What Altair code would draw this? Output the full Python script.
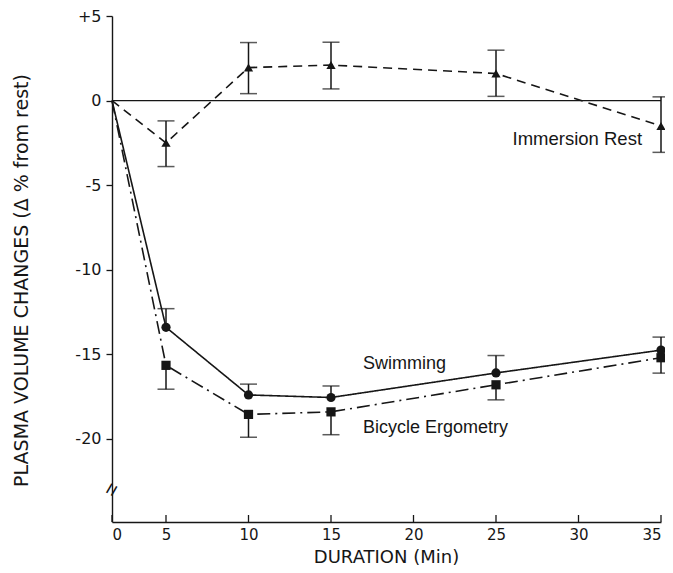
import altair as alt
import pandas as pd

# ---- data ----
minutes = [0, 5, 10, 15, 25, 35]

immersion = [0, -2.5, 1.95, 2.1, 1.6, -1.5]
immersion_hi = [None, -1.2, 3.43, 3.45, 2.98, 0.22]
immersion_lo = [None, -3.9, 0.41, 0.69, 0.25, -3.06]

swimming = [0, -13.4, -17.4, -17.55, -16.1, -14.75]
swimming_hi = [None, -12.3, -16.76, -16.87, -15.07, -13.98]

bicycle = [0, -15.65, -18.55, -18.4, -16.8, -15.2]
bicycle_lo = [None, -17.06, -19.9, -19.75, -17.69, -16.11]

x_ticks = [0, 5, 10, 15, 20, 25, 30, 35]
y_ticks = [5, 0, -5, -10, -15, -20]

labels = ["Immersion Rest", "Swimming", "Bicycle Ergometry"]
label_x = [33.85, 16.94, 16.94]
label_y = [-2.3, -15.55, -19.35]
label_align = ["right", "left", "left"]

# ---- tables ----
def series_df(name, vals):
    return pd.DataFrame({"series": name, "minute": minutes, "value": vals})

lines = pd.concat([
    series_df("Immersion Rest", immersion),
    series_df("Swimming", swimming),
    series_df("Bicycle Ergometry", bicycle),
])
points = lines[lines["minute"] > 0]

err_rows = []
for i, m in enumerate(minutes):
    if m == 0:
        continue
    err_rows.append({"series": "Immersion Rest", "minute": m, "lo": immersion_lo[i], "hi": immersion_hi[i]})
    err_rows.append({"series": "Swimming", "minute": m, "lo": swimming[i], "hi": swimming_hi[i]})
    err_rows.append({"series": "Bicycle Ergometry", "minute": m, "lo": bicycle_lo[i], "hi": bicycle[i]})
errs = pd.DataFrame(err_rows)

cap_rows = []
for i, m in enumerate(minutes):
    if m == 0:
        continue
    cap_rows += [
        {"minute": m, "cap": immersion_lo[i]},
        {"minute": m, "cap": immersion_hi[i]},
        {"minute": m, "cap": swimming_hi[i]},
        {"minute": m, "cap": bicycle_lo[i]},
    ]
caps = pd.DataFrame(cap_rows)

text_df = pd.DataFrame({"label": labels, "minute": label_x, "value": label_y, "align": label_align})
xt = pd.DataFrame({"minute": x_ticks})

INK = "#161616"
FONT = "Liberation Sans"
AXFONT = "DejaVu Sans"

W, H = 549, 506
xscale = alt.Scale(domain=[0, 5, 35], range=[0, 54, W], nice=False, zero=False)
yscale = alt.Scale(domain=[-24.91, 5], nice=False, zero=False)

X = alt.X("minute:Q", scale=xscale,
          axis=alt.Axis(values=x_ticks, title="DURATION (Min)", ticks=False,
                        labelPadding=5, labelFontSize=15,
                        titleX=274, titleY=35, titleBaseline="middle",
                        titleFontSize=18))
Y = alt.Y("value:Q", scale=yscale,
          axis=alt.Axis(values=y_ticks, title="PLASMA VOLUME CHANGES (Δ % from rest)",
                        labelExpr="datum.value > 0 ? '+' + datum.value : '' + datum.value",
                        tickSize=6, labelPadding=5,
                        titleAngle=270, titleAlign="center", titleBaseline="middle",
                        titleX=-91, titleY=264, titleFontSize=19))

base = alt.Chart(lines)

zero_line = alt.Chart(pd.DataFrame({"value": [0]})).mark_rule(color=INK, strokeWidth=1.3).encode(
    y=alt.Y("value:Q", scale=yscale)
)

def line_layer(name, dash):
    return base.transform_filter(alt.datum.series == name).mark_line(
        color=INK, strokeWidth=1.6, strokeDash=dash
    ).encode(x=X, y=Y, order="minute:Q")

l_imm = line_layer("Immersion Rest", [9, 6])
l_swim = line_layer("Swimming", [1, 0])
l_bike = line_layer("Bicycle Ergometry", [13, 5, 2, 5])

pts = alt.Chart(points).mark_point(filled=True, opacity=1, color=INK, size=85).encode(
    x=alt.X("minute:Q", scale=xscale),
    y=alt.Y("value:Q", scale=yscale),
    shape=alt.Shape("series:N", scale=alt.Scale(
        domain=["Immersion Rest", "Swimming", "Bicycle Ergometry"],
        range=["triangle-up", "circle", "square"]), legend=None),
)

err_lines = alt.Chart(errs).mark_rule(color=INK, strokeWidth=1.5).encode(
    x=alt.X("minute:Q", scale=xscale),
    y=alt.Y("lo:Q", scale=yscale),
    y2="hi:Q",
)

cap_ticks = alt.Chart(caps).mark_tick(color=INK, orient="horizontal", size=17, thickness=1.5).encode(
    x=alt.X("minute:Q", scale=xscale),
    y=alt.Y("cap:Q", scale=yscale),
)

xtick_marks = alt.Chart(xt).mark_rule(color=INK, strokeWidth=1.3).encode(
    x=alt.X("minute:Q", scale=xscale),
    y=alt.value(H),
    y2=alt.value(H - 7),
)

break_mark = alt.Chart(pd.DataFrame({"minute": [0], "value": [-23.0]})).mark_text(
    text="=", fontSize=22, angle=300, color=INK, font=FONT
).encode(x=alt.X("minute:Q", scale=xscale), y=alt.Y("value:Q", scale=yscale))

t_right = alt.Chart(text_df[text_df["align"] == "right"]).mark_text(
    fontSize=18.5, font=FONT, color=INK, baseline="middle", align="right"
).encode(x=alt.X("minute:Q", scale=xscale), y=alt.Y("value:Q", scale=yscale), text="label:N")
t_left = alt.Chart(text_df[text_df["align"] == "left"]).mark_text(
    fontSize=18, font=FONT, color=INK, baseline="middle", align="left"
).encode(x=alt.X("minute:Q", scale=xscale), y=alt.Y("value:Q", scale=yscale), text="label:N")

chart = alt.layer(
    l_imm, l_swim, l_bike, zero_line, err_lines, cap_ticks, pts, xtick_marks, break_mark, t_right, t_left
).properties(
    width=W, height=H,
    autosize=alt.AutoSizeParams(type="none"),
    padding={"left": 104, "top": 8, "right": 4, "bottom": 43},
).configure_view(stroke=None).configure_axis(
    grid=False, domainColor=INK, domainWidth=1.4, tickColor=INK, tickWidth=1.3,
    labelFont=AXFONT, labelFontSize=16, labelColor=INK,
    titleFont=AXFONT, titleFontSize=18, titleFontWeight="normal", titleColor=INK,
)

chart.save("out.html", embed_options={"renderer": "svg", "actions": False})
